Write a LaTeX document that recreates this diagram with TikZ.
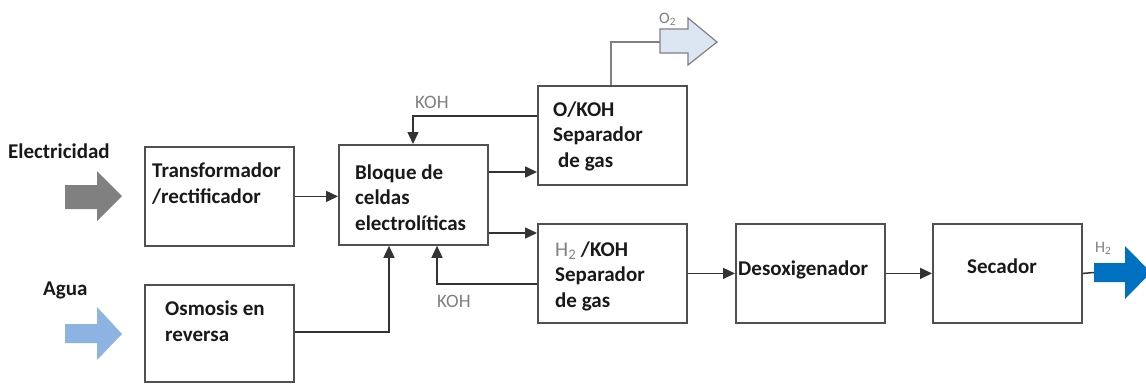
\documentclass[tikz,border=0pt]{standalone}
\usepackage{fontspec}
\setmainfont{Carlito}
\usetikzlibrary{arrows.meta}
\definecolor{boxline}{HTML}{505050}
\definecolor{elecgray}{HTML}{808080}
\definecolor{aguablue}{HTML}{8DB3E2}
\definecolor{otwo}{HTML}{DCE6F2}
\definecolor{htwo}{HTML}{0070C0}
\begin{document}
\begin{tikzpicture}[x=1pt,y=-1pt,
  box/.style={draw=boxline,line width=1.8pt,minimum width=149pt,minimum height=99pt,anchor=north west,inner sep=0pt},
  txt/.style={font=\bfseries\fontsize{21}{25.5}\selectfont,align=left,anchor=base west,inner sep=0pt,text=black!90},
  conn/.style={line width=1.5pt,draw=black!80,-{Triangle[length=12pt,width=11pt]}},
  plain/.style={line width=1.5pt,draw=black!80},
  graylink/.style={line width=1.6pt,draw=elecgray},
  lbl/.style={font=\fontsize{19}{22}\selectfont,text=elecgray,anchor=base west,inner sep=0pt}]
\useasboundingbox (0,0) rectangle (1146,383);
\clip (0,0) rectangle (1146,383);
% boxes
\node[box] (T)  at (144,146) {};
\node[box,minimum height=97pt] (RO) at (144,284) {};
\node[box,minimum height=100pt] (B) at (338,144) {};
\node[box] (OK) at (537,85) {};
\node[box] (HK) at (537,223) {};
\node[box] (D)  at (735,223) {};
\node[box] (S)  at (932,223) {};
% texts (anchor at the baseline of the last line)
\node[txt] (tT) at (152,203) {Transformador\\/rectificador};
\node[txt] (tRO) at (165,341) {Osmosis en\\reversa};
\node[txt] (tB) at (355,230) {Bloque de\\celdas\\electrolíticas};
\node[txt] (tOK) at (553,167) {O/KOH\\Separador\\\hspace*{5pt}de gas};
\node[txt] (tHK) at (555,307) {{\color{elecgray}\mdseries H\textsubscript{2}} /KOH\\Separador\\de gas};
\node[txt] (tD) at (738,275) {Desoxigenador};
\node[txt] (tS) at (967,273) {Secador};
\node[txt] (tE) at (8,158) {Electricidad};
\node[txt] (tA) at (43,295) {Agua};
% labels
\node[lbl] (k1) at (415,108) {KOH};
\node[lbl] (k2) at (437,307) {KOH};
\node[lbl,font=\fontsize{16}{18}\selectfont] (lo2) at (659,23) {O\textsubscript{2}};
\node[lbl,font=\fontsize{16}{18}\selectfont] (lh2) at (1095,252) {H\textsubscript{2}};
% block arrows
\fill[elecgray] (65,185) -- (97,185) -- (97,171) -- (122,196) -- (97,221) -- (97,209) -- (65,209) -- cycle;
\fill[aguablue] (65,324) -- (97,324) -- (97,307) -- (122,334) -- (97,360) -- (97,343) -- (65,343) -- cycle;
\filldraw[fill=otwo,draw=elecgray,line width=1.2pt] (660,29) -- (688,29) -- (688,18) -- (717,42) -- (688,65) -- (688,53) -- (660,53) -- cycle;
\fill[htwo] (1094,263) -- (1125,263) -- (1125,246) -- (1151,272.5) -- (1125,299) -- (1125,282) -- (1094,282) -- cycle;
\coordinate (o2tail) at (660,42);
\coordinate (h2tail) at (1094,272.5);
% connectors
\draw[conn] (T.east) -- (T.east -| B.west);
\draw[conn] (B.east |- 0,172) -- (OK.west |- 0,172);
\draw[conn] (B.east |- 0,233) -- (HK.west |- 0,233);
\draw[conn] (HK.west |- 0,284) -| (B.south -| 437,0);
\draw[conn] (RO.east |- 0,332) -| (B.south -| 389,0);
\draw[conn] (OK.west |- 0,116) -| (B.north -| 413,0);
\draw[graylink] (OK.north -| 611,0) |- (o2tail);
\draw[conn] (HK.east) -- (D.west);
\draw[conn] (D.east) -- (S.west);
\draw[plain] (S.east) -- (h2tail);
\end{tikzpicture}
\end{document}
